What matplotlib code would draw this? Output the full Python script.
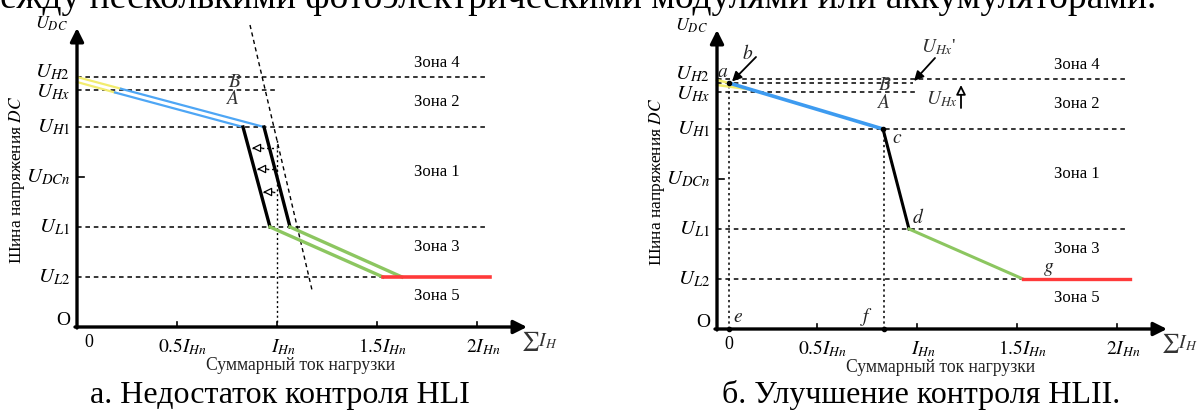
import matplotlib
matplotlib.use("Agg")
import matplotlib.pyplot as plt

plt.rcParams['font.family'] = ['Liberation Serif', 'DejaVu Serif']
plt.rcParams['mathtext.fontset'] = 'stix'

# Уровни напряжения шины DC (в условных единицах)
y_names = [r'$U_{H2}$', r'$U_{Hx}$', r'$U_{H1}$', r'$U_{DCn}$', r'$U_{L1}$', r'$U_{L2}$']
y_vals = [5.0, 4.75, 4.0, 3.0, 2.0, 1.0]
y_label_pos = [5.1, 4.7, 4.0, 3.0, 2.0, 1.0]

# Деления оси тока (в долях I_Hn)
x_ticks = [0.5, 1.0, 1.5, 2.0]
x_labels = [r'$\mathit{0.5}I_{Hn}$', r'$I_{Hn}$', r'$\mathit{1.5}I_{Hn}$', r'$\mathit{2}I_{Hn}$']

# Зоны
zone_names = ['Зона 4', 'Зона 2', 'Зона 1', 'Зона 3', 'Зона 5']
zone_y = [5.28, 4.5, 3.1, 1.6, 0.62]

# --- рисунок а ---
a_yellow = [([0, 0.22], [5.0, 4.765]), ([0, 0.19], [4.9, 4.69])]
a_blue = [([0.22, 0.935], [4.765, 4.0]), ([0.19, 0.83], [4.69, 4.0])]
a_black = [([0.83, 0.965], [4.0, 2.0]), ([0.935, 1.065], [4.0, 2.0])]
a_green = [([0.965, 1.53], [2.0, 1.0]), ([1.065, 1.625], [2.0, 1.0])]
a_red = ([1.53, 2.065], [1.0, 1.0])
a_slant = ([0.865, 1.175], [6.04, 0.74])
a_shift_y = [3.58, 3.16, 2.7]
a_shift_tip = [0.875, 0.9, 0.93]

# --- рисунок б ---
b_yellow = [([0, 0.06], [4.98, 4.92]), ([0, 0.17], [4.88, 4.79])]
b_blue = ([0.06, 0.83], [4.92, 4.0])
b_black = ([0.83, 0.96], [4.0, 2.0])
b_green = ([0.96, 1.53], [2.0, 1.0])
b_red = ([1.53, 2.065], [1.0, 1.0])
b_level_B = 4.92
b_points = {'a': (0.06, 4.92), 'c': (0.83, 4.0), 'e': (0.06, 0.0), 'f': (0.835, 0.0)}
b_letters = {'a': (0.03, 5.14), 'b': (0.155, 5.52), 'c': (0.9, 3.82), 'd': (1.005, 2.24),
             'e': (0.105, 0.24), 'f': (0.75, 0.24), 'g': (1.66, 1.2)}

fig = plt.figure(figsize=(11.97, 4.11), dpi=100)
axA = fig.add_axes([0, 0, 598 / 1197, 1])
axB = fig.add_axes([598 / 1197, 0, 599 / 1197, 1])
axA.set_xlim(-0.385, 2.605)
axA.set_ylim(-1.68, 6.54)
axB.set_xlim(-0.595, 2.4)
axB.set_ylim(-1.64, 6.58)

dash = (0, (3, 2.5))
dot = (0, (1.5, 2))


def frame(ax):
    ax.axis('off')
    # оси со стрелками
    ax.annotate('', xy=(0, 5.98), xytext=(0, -0.02),
                arrowprops=dict(arrowstyle='-|>', lw=2.4, color='black', mutation_scale=20,
                                shrinkA=0, shrinkB=0))
    ax.annotate('', xy=(2.25, 0), xytext=(-0.01, 0),
                arrowprops=dict(arrowstyle='-|>', lw=2.4, color='black', mutation_scale=20,
                                shrinkA=0, shrinkB=0))
    for name, v in zip(y_names, y_label_pos):
        ax.text(-0.035, v, name, ha='right', va='center', fontsize=15)
    ax.plot([0, 0.035], [3.0, 3.0], color='black', lw=1.2)
    for t, lab in zip(x_ticks, x_labels):
        ax.plot([t, t], [0, 0.1], color='black', lw=1.2)
        ax.text(t + 0.03, -0.4, lab, ha='center', va='center', fontsize=14)
    ax.text(0.06, -0.3, '0', ha='center', va='center', fontsize=13)
    ax.text(-0.07, 0.13, 'O', ha='center', va='center', fontsize=14)
    ax.text(2.31, -0.28, r'$\sum I_H$', ha='center', va='center', fontsize=14, color='#333333')
    ax.text(-0.13, 6.06, r'$U_{DC}$', ha='center', va='center', fontsize=13)
    ax.text(-0.3, 2.95, 'Шина напряжения $\\mathit{DC}$', rotation=90, ha='center', va='center',
            fontsize=12.5)
    ax.text(1.12, -0.77, 'Суммарный ток нагрузки', ha='center', va='center', fontsize=12.7,
            color='#222222')
    for name, zy in zip(zone_names, zone_y):
        ax.text(1.8, zy, name, ha='center', va='center', fontsize=12)
    for v in [5.0, 4.0, 2.0, 1.0]:
        ax.plot([0, 2.05], [v, v], color='black', lw=1.1, linestyle=dash)


# ---------- а ----------
frame(axA)
axA.plot([0, 1.0], [4.75, 4.75], color='black', lw=1.1, linestyle=dash)
axA.plot(*a_slant, color='black', lw=1.0, linestyle=dash)
axA.plot([1.0, 1.0], [0, 3.74], color='black', lw=1.0, linestyle=dot)
for sy, tip in zip(a_shift_y, a_shift_tip):
    axA.plot([tip, 1.0], [sy, sy], color='black', lw=1.0, linestyle=dot)
    axA.annotate('', xy=(tip, sy), xytext=(tip + 0.05, sy),
                 arrowprops=dict(arrowstyle='-|>', lw=0.9, fc='white', ec='black',
                                 mutation_scale=13, shrinkA=0, shrinkB=0))
for xs, ys in a_yellow:
    axA.plot(xs, ys, color='#f2ec6e', lw=1.6)
for xs, ys in a_blue:
    axA.plot(xs, ys, color='#4ea6f5', lw=1.6)
for xs, ys in a_black:
    axA.plot(xs, ys, color='black', lw=2.4)
for xs, ys in a_green:
    axA.plot(xs, ys, color='#8cc660', lw=2.4)
axA.plot(*a_red, color='#ff3a3a', lw=2.6)
axA.text(0.79, 4.9, r'$B$', ha='center', va='center', fontsize=14, color='#333333')
axA.text(0.775, 4.56, r'$A$', ha='center', va='center', fontsize=14, color='#333333')

# ---------- б ----------
frame(axB)
axB.plot([0, 0.98], [b_level_B, b_level_B], color='black', lw=1.1, linestyle=dash)
axB.plot([0, 1.0], [4.75, 4.75], color='black', lw=1.1, linestyle=dash)
axB.plot([b_points['a'][0]] * 2, [0, b_points['a'][1]], color='black', lw=1.1, linestyle=dot)
axB.plot([b_points['f'][0]] * 2, [0, b_points['c'][1]], color='black', lw=1.1, linestyle=dot)
for xs, ys in b_yellow:
    axB.plot(xs, ys, color='#f2ec6e', lw=1.8)
axB.plot(*b_blue, color='#3d9bf0', lw=2.6)
axB.plot(*b_black, color='black', lw=2.2)
axB.plot(*b_green, color='#8cc660', lw=2.2)
axB.plot(*b_red, color='#ff3a3a', lw=2.4)
for px, py in b_points.values():
    axB.plot(px, py, 'o', color='black', ms=3)
for k, (lx, ly) in b_letters.items():
    axB.text(lx, ly, '$' + k + '$', ha='center', va='center', fontsize=14, color='#222222')
axB.text(0.84, 4.88, r'$B$', ha='center', va='center', fontsize=14, color='#333333')
axB.text(0.83, 4.52, r'$A$', ha='center', va='center', fontsize=14, color='#333333')
axB.annotate('', xy=(0.075, 4.95), xytext=(0.195, 5.44),
             arrowprops=dict(arrowstyle='-|>', lw=1.3, color='black', mutation_scale=14,
                             shrinkA=0, shrinkB=0))
axB.annotate('', xy=(0.985, 4.96), xytext=(1.09, 5.42),
             arrowprops=dict(arrowstyle='-|>', lw=1.3, color='black', mutation_scale=14,
                             shrinkA=0, shrinkB=0))
axB.text(1.11, 5.64, r"$U_{Hx}$'", ha='center', va='center', fontsize=14, color='#333333')
axB.annotate('', xy=(1.22, 4.88), xytext=(1.22, 4.42),
             arrowprops=dict(arrowstyle='-|>', lw=1.3, fc='white', ec='black',
                             mutation_scale=14, shrinkA=0, shrinkB=0))
axB.text(1.125, 4.6, r'$U_{Hx}$', ha='center', va='center', fontsize=14, color='#333333')

# подписи
fig.text(280 / 1197, 1 - 395 / 411, 'а. Недостаток контроля HLI', ha='center', va='center',
         fontsize=23)
fig.text(921 / 1197, 1 - 395 / 411, 'б. Улучшение контроля HLII.', ha='center', va='center',
         fontsize=23)
fig.text(0, 1 - 8 / 411, 'ежду несколькими фотоэлектрическими модулями или аккумуляторами.',
         ha='left', va='baseline', fontsize=27)

fig.savefig('out.png', dpi=100)
